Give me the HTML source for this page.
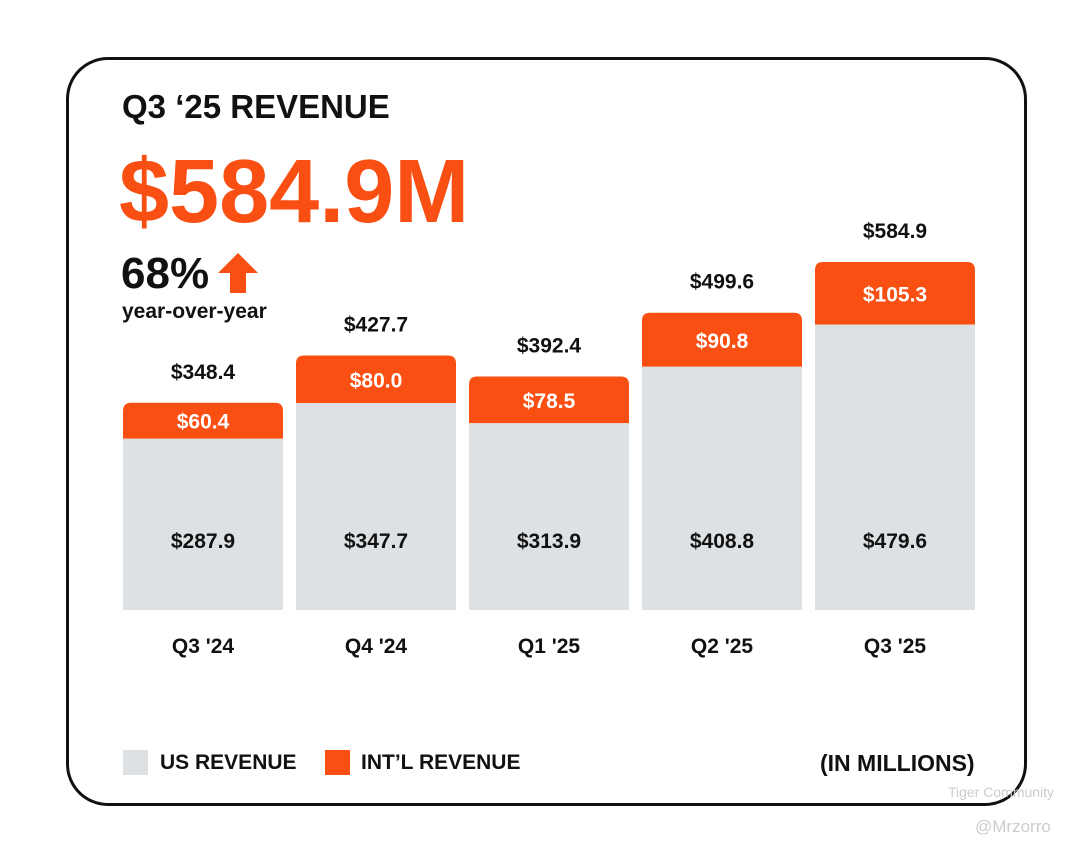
<!DOCTYPE html>
<html><head><meta charset="utf-8"><style>
body{margin:0;width:1080px;height:852px;background:#fff;font-family:"Liberation Sans",sans-serif;position:relative;overflow:hidden}
.card{position:absolute;left:66px;top:57px;width:955px;height:743px;border:3px solid #111;border-radius:42px}
.t{position:absolute;font-weight:bold;color:#111;white-space:nowrap}
</style></head><body>
<div class="card"></div>
<div class="t" style="left:122px;top:88px;font-size:33px">Q3 ‘25 REVENUE</div>
<div class="t" style="left:119px;top:141px;font-size:90px;color:#fa4f12">$584.9M</div>
<div class="t" style="left:121px;top:249px;font-size:44px">68%</div>
<svg style="position:absolute;left:218px;top:253px" width="40" height="40"><polygon points="20,0 40,20 28,20 28,40 12,40 12,20 0,20" fill="#fa4f12"/></svg>
<div class="t" style="left:122px;top:300px;font-size:21px">year-over-year</div>
<svg id="chart" style="position:absolute;left:0;top:0" width="1080" height="852"></svg>
<div style="position:absolute;left:123px;top:750px;width:25px;height:25px;background:#dde1e3"></div>
<div class="t" style="left:160px;top:751px;font-size:21px">US REVENUE</div>
<div style="position:absolute;left:325px;top:750px;width:25px;height:25px;background:#fa4f12"></div>
<div class="t" style="left:361px;top:751px;font-size:21px">INT’L REVENUE</div>
<div class="t" style="left:820px;top:750px;font-size:23px">(IN MILLIONS)</div>
<div class="t" style="left:948px;top:784px;font-size:14px;color:#ccc;font-weight:normal">Tiger Community</div>
<div class="t" style="left:975px;top:817px;font-size:17px;color:#ccc;font-weight:normal">@Mrzorro</div>
<script>
const categories=["Q3 '24","Q4 '24","Q1 '25","Q2 '25","Q3 '25"];
const usValues=[287.9,347.7,313.9,408.8,479.6];
const intlValues=[60.4,80.0,78.5,90.8,105.3];
const totals=[348.4,427.7,392.4,499.6,584.9];
const svg=document.getElementById('chart');
const NS='http://www.w3.org/2000/svg';
const base=610,scale=0.595,x0=123,step=173,bw=160;
const y=v=>base-v*scale;
function mk(tag,attrs){const e=document.createElementNS(NS,tag);for(const k in attrs)e.setAttribute(k,attrs[k]);svg.appendChild(e);return e;}
function txt(s,x,yy,fill,size){const e=mk('text',{x:x,y:yy,'text-anchor':'middle','font-family':'Liberation Sans, sans-serif','font-weight':'bold','font-size':size,fill:fill});e.textContent=s;return e;}
categories.forEach((c,i)=>{
  const x=x0+i*step,cx=x+bw/2;
  const tot=usValues[i]+intlValues[i];
  const ty=y(tot),my=y(usValues[i]);
  const o=mk('path',{d:`M${x},${my} V${ty+8} Q${x},${ty} ${x+8},${ty} H${x+bw-8} Q${x+bw},${ty} ${x+bw},${ty+8} V${my} Z`,fill:'#fa4f12'});
  
  
  const g=mk('rect',{x:x,y:my,width:bw,height:base-my,fill:'#dde1e3'});
  
  
  const a=txt('$'+intlValues[i].toFixed(1),cx,(ty+my)/2+8,'#fff',21);
  
  
  const b=txt('$'+usValues[i].toFixed(1),cx,548,'#111',21);
  
  
  const t=txt('$'+totals[i].toFixed(1),cx,ty-24,'#111',21);
  
  
  const l=txt(c,cx,653,'#111',21);
  
  
});
</script>
</body></html>
